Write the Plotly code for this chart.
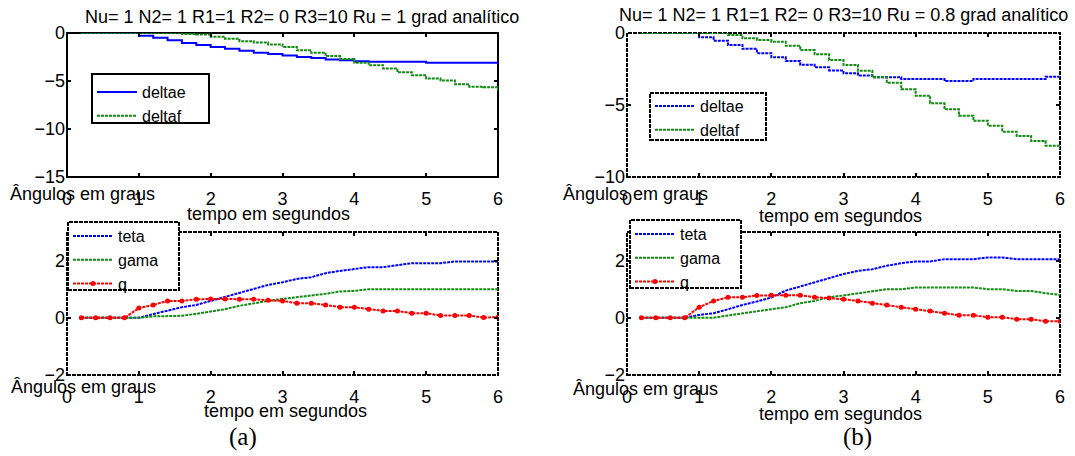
import plotly.graph_objects as go

W, H = 1075, 456

# ---------------- data ----------------
t = [0.2, 0.4, 0.6, 0.8, 1.0, 1.2, 1.4, 1.6, 1.8, 2.0, 2.2, 2.4, 2.6, 2.8, 3.0,
     3.2, 3.4, 3.6, 3.8, 4.0, 4.2, 4.4, 4.6, 4.8, 5.0, 5.2, 5.4, 5.6, 5.8, 6.0]

deltae_a = [0, 0, 0, 0, -0.28, -0.5, -0.75, -1.05, -1.25, -1.45, -1.65, -1.85, -2.05, -2.2, -2.35,
            -2.5, -2.6, -2.75, -2.85, -2.95, -3.0, -3.0, -3.0, -3.0, -3.1, -3.1, -3.1, -3.1, -3.1, -3.1]
deltaf_a = [0, 0, 0, 0, 0, 0, 0, -0.1, -0.15, -0.4, -0.6, -0.85, -1.0, -1.2, -1.45,
            -1.8, -2.05, -2.4, -2.7, -3.1, -3.35, -3.7, -4.1, -4.4, -4.75, -4.95, -5.35, -5.6, -5.65, -6.0]

deltae_b = [0, 0, 0, 0, -0.3, -0.53, -0.83, -1.1, -1.4, -1.69, -1.94, -2.2, -2.38, -2.6, -2.8,
            -2.96, -3.08, -3.08, -3.2, -3.2, -3.2, -3.33, -3.33, -3.2, -3.2, -3.2, -3.2, -3.2, -3.03, -3.0]
deltaf_b = [0, 0, 0, 0, 0, 0, -0.14, -0.37, -0.49, -0.6, -0.88, -1.18, -1.48, -1.88, -2.22,
            -2.62, -3.08, -3.45, -3.91, -4.35, -4.88, -5.3, -5.74, -6.1, -6.44, -6.85, -7.15, -7.5, -7.83, -8.06]

teta_a = [0, 0, 0, 0, 0, 0.13, 0.26, 0.37, 0.45, 0.59, 0.72, 0.86, 1.01, 1.15, 1.24,
          1.36, 1.42, 1.56, 1.64, 1.71, 1.77, 1.77, 1.85, 1.91, 1.91, 1.91, 1.97, 1.97, 1.97, 1.97]
gama_a = [0, 0, 0, 0, 0, 0.05, 0.07, 0.07, 0.14, 0.22, 0.3, 0.42, 0.51, 0.59, 0.66,
          0.72, 0.77, 0.84, 0.92, 0.94, 1.0, 1.0, 1.0, 1.0, 1.0, 1.0, 1.0, 1.0, 1.0, 1.0]
q_a = [0, 0, 0, 0, 0.34, 0.45, 0.59, 0.59, 0.65, 0.66, 0.66, 0.65, 0.65, 0.61, 0.59,
       0.51, 0.51, 0.45, 0.37, 0.37, 0.3, 0.24, 0.24, 0.16, 0.16, 0.08, 0.08, 0.08, 0.01, 0.02]

teta_b = [0, 0, 0, 0, 0.1, 0.16, 0.3, 0.45, 0.57, 0.71, 0.95, 1.09, 1.24, 1.39, 1.53,
          1.64, 1.70, 1.82, 1.91, 1.97, 1.97, 2.05, 2.05, 2.05, 2.11, 2.11, 2.05, 2.05, 2.05, 2.05]
gama_b = [0, 0, 0, 0, 0, 0, 0.08, 0.16, 0.24, 0.3, 0.37, 0.51, 0.59, 0.72, 0.78,
          0.86, 0.92, 1.0, 1.0, 1.06, 1.06, 1.06, 1.06, 1.06, 1.0, 1.0, 0.94, 0.94, 0.86, 0.8]
q_b = [0, 0, 0, 0, 0.37, 0.59, 0.72, 0.72, 0.78, 0.79, 0.79, 0.79, 0.72, 0.69, 0.65,
       0.59, 0.51, 0.45, 0.37, 0.3, 0.24, 0.16, 0.09, 0.09, 0.02, 0.02, -0.05, -0.05, -0.12, -0.12]

x_ticks = [0, 1, 2, 3, 4, 5, 6]
y_ticks_top_a = [0, -5, -10, -15]
y_ticks_top_b = [0, -5, -10]
y_ticks_bottom = [-2, 0, 2]

title_a = "Nu= 1 N2= 1 R1=1 R2= 0 R3=10 Ru = 1 grad analítico"
title_b = "Nu= 1 N2= 1 R1=1 R2= 0 R3=10 Ru = 0.8 grad analítico"
xlabel = "tempo em segundos"
ylabel = "Ângulos em graus"

# ---------------- style ----------------
FONT = "Liberation Sans, Arial, sans-serif"
BLUE = "#0000ff"
GREEN = "#138a13"
RED = "#ff0000"
DOTS = "3px,1px"


def PX(x):
    return x / W


def PY(y):
    return 1 - y / H


fig = go.Figure()

# panel geometry in pixels (left, right, top, bottom)
panels = {
    "1": (67, 498, 33, 177),
    "2": (627, 1060, 33, 177),
    "3": (67, 498, 232, 375),
    "4": (627, 1060, 232, 375),
}

# ---- traces ----
fig.add_trace(go.Scatter(x=t, y=deltae_a, name="deltae", mode="lines", line_shape="hv",
                         line=dict(color=BLUE, width=2), xaxis="x", yaxis="y", legend="legend"))
fig.add_trace(go.Scatter(x=t, y=deltaf_a, name="deltaf", mode="lines", line_shape="hv",
                         line=dict(color=GREEN, width=2, dash=DOTS), xaxis="x", yaxis="y", legend="legend"))

fig.add_trace(go.Scatter(x=t, y=deltae_b, name="deltae", mode="lines", line_shape="hv",
                         line=dict(color=BLUE, width=2, dash=DOTS), xaxis="x2", yaxis="y2", legend="legend2"))
fig.add_trace(go.Scatter(x=t, y=deltaf_b, name="deltaf", mode="lines", line_shape="hv",
                         line=dict(color=GREEN, width=2, dash=DOTS), xaxis="x2", yaxis="y2", legend="legend2"))

for (xa, ya, lg, te, ga, qq) in [("x3", "y3", "legend3", teta_a, gama_a, q_a),
                                  ("x4", "y4", "legend4", teta_b, gama_b, q_b)]:
    fig.add_trace(go.Scatter(x=t, y=te, name="teta", mode="lines",
                             line=dict(color=BLUE, width=2, dash=DOTS), xaxis=xa, yaxis=ya, legend=lg))
    fig.add_trace(go.Scatter(x=t, y=ga, name="gama", mode="lines",
                             line=dict(color=GREEN, width=2, dash=DOTS), xaxis=xa, yaxis=ya, legend=lg))
    fig.add_trace(go.Scatter(x=t, y=qq, name="q", mode="lines+markers",
                             line=dict(color=RED, width=2, dash=DOTS),
                             marker=dict(color=RED, size=5), xaxis=xa, yaxis=ya, legend=lg))

# ---- axes ----
axis_common = dict(showgrid=False, zeroline=False, showline=False, ticks="inside", ticklen=4,
                   tickwidth=2, tickcolor="black", mirror="ticks", automargin=False,
                   tickfont=dict(family=FONT, size=18, color="black"))

yinfo = {"1": ([-15, 0], y_ticks_top_a), "2": ([-10, 0], y_ticks_top_b),
         "3": ([-2, 3], y_ticks_bottom), "4": ([-2, 3], y_ticks_bottom)}

layout_axes = {}
for k, (l, r, tp, b) in panels.items():
    sx = "" if k == "1" else k
    layout_axes["xaxis" + sx] = dict(axis_common, domain=[PX(l), PX(r)], range=[0, 6],
                                     tickvals=x_ticks, anchor="y" + sx, ticklabelstandoff=9)
    rng, tv = yinfo[k]
    layout_axes["yaxis" + sx] = dict(axis_common, domain=[PY(b), PY(tp)], range=rng,
                                     tickvals=tv, anchor="x" + sx, ticklabelstandoff=1)
fig.update_layout(**layout_axes)

# ---- frames (below the data, like the reference where curves sit on the frame) ----
shapes = []
for k in panels:
    sx = "" if k == "1" else k
    shapes.append(dict(type="rect", xref=("x" + sx) + " domain", yref=("y" + sx) + " domain",
                       x0=0, x1=1, y0=0, y1=1, layer="below",
                       line=dict(color="black", width=2, dash=("solid" if k == "1" else "4px,1px"))))

# ---- legend boxes ----
leg_boxes = [(92, 209, 74, 123, "solid"), (650, 766, 93, 140, "4px,1px"),
             (68, 179, 222, 290, "4px,1px"), (630, 741, 220, 288, "4px,1px")]
for (l, r, tp, b, d) in leg_boxes:
    shapes.append(dict(type="rect", xref="paper", yref="paper", x0=PX(l), x1=PX(r),
                       y0=PY(b), y1=PY(tp), layer="above", fillcolor="white",
                       line=dict(color="black", width=2, dash=d)))

LEGFONT = dict(family=FONT, size=16, color="black")
legend_common = dict(bgcolor="rgba(0,0,0,0)", borderwidth=0, xanchor="left", yanchor="top",
                     font=LEGFONT, tracegroupgap=0, itemwidth=40)
fig.update_layout(
    legend=dict(legend_common, x=PX(92), y=PY(75)),
    legend2=dict(legend_common, x=PX(650), y=PY(89)),
    legend3=dict(legend_common, x=PX(68), y=PY(219)),
    legend4=dict(legend_common, x=PX(630), y=PY(217)),
)

# ---- text annotations ----
ann = []


def text(x, y, s, size=18, xanchor="center", family=FONT):
    ann.append(dict(x=PX(x), y=PY(y), xref="paper", yref="paper", text=s, showarrow=False,
                    xanchor=xanchor, yanchor="middle", font=dict(family=family, size=size, color="black")))


text(302, 17, title_a, size=18)
text(843, 15, title_b, size=18)
text(8, 194, ylabel, xanchor="left")
text(561, 194, ylabel, xanchor="left")
text(9, 387, ylabel, xanchor="left")
text(571, 389, ylabel, xanchor="left")
text(268, 214, xlabel)
text(840, 216, xlabel)
text(285, 411, xlabel)
text(840, 414, xlabel)
text(243, 437, "(a)", size=25, family="Liberation Serif, Times New Roman, serif")
text(857, 437, "(b)", size=25, family="Liberation Serif, Times New Roman, serif")

fig.update_layout(shapes=shapes, annotations=ann, width=W, height=H,
                  margin=dict(l=0, r=0, t=0, b=0, pad=0, autoexpand=False),
                  paper_bgcolor="white", plot_bgcolor="white", showlegend=True)

fig.write_html("out.html", config={"displayModeBar": False})
